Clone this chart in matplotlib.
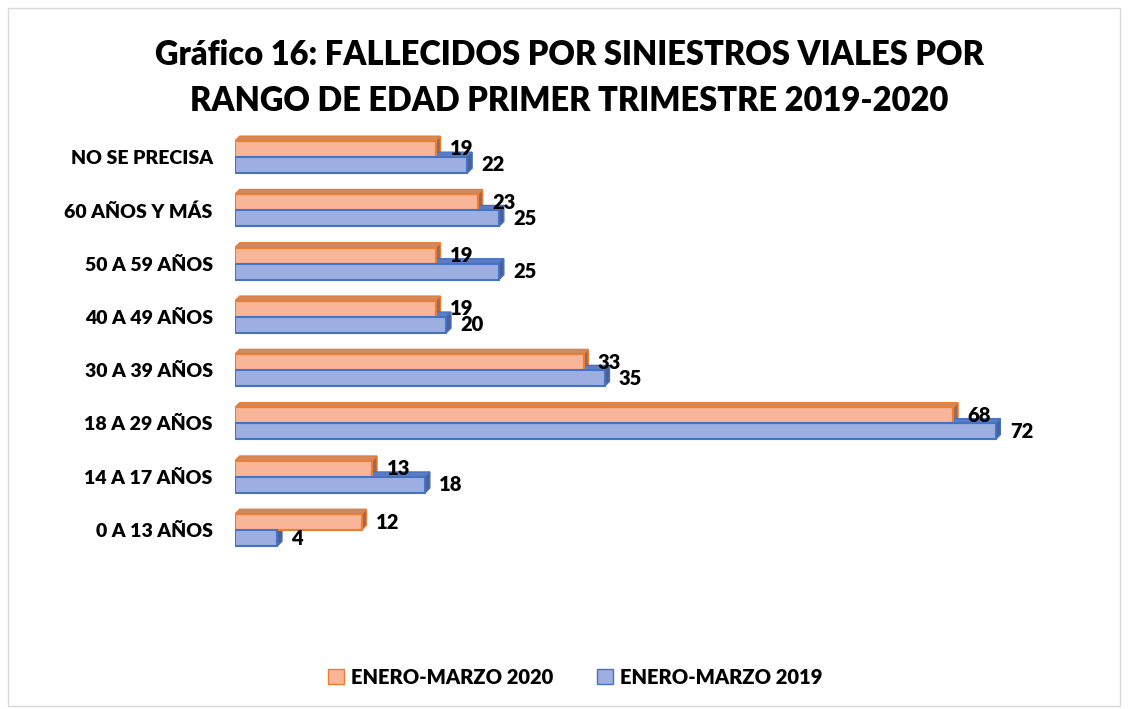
import numpy as np
import matplotlib.pyplot as plt
from matplotlib.patches import Polygon, Patch, Rectangle

# Datos
categorias = ['NO SE PRECISA', '60 AÑOS Y MÁS', '50 A 59 AÑOS', '40 A 49 AÑOS',
              '30 A 39 AÑOS', '18 A 29 AÑOS', '14 A 17 AÑOS', '0 A 13 AÑOS']
val_2020 = [19, 23, 19, 19, 33, 68, 13, 12]
val_2019 = [22, 25, 25, 20, 35, 72, 18, 4]
serie_2020 = 'ENERO-MARZO 2020'
serie_2019 = 'ENERO-MARZO 2019'
titulo = 'Gráfico 16: FALLECIDOS POR SINIESTROS VIALES POR\nRANGO DE EDAD PRIMER TRIMESTRE 2019-2020'

plt.rcParams['font.family'] = ['Lato', 'DejaVu Sans']
peso = 'heavy'

fig = plt.figure(figsize=(11.28, 7.09), dpi=100)
fig.patches.append(Rectangle((0.007, 0.004), 0.986, 0.985, transform=fig.transFigure,
                             fill=False, edgecolor='#d9d9d9', linewidth=1))
ax = fig.add_axes([0.2083, 0.1772, 0.7305, 0.639])

h = 0.3    # alto de cada barra
dx = 0.45  # profundidad 3D en x
dy = 0.09  # profundidad 3D en y

estilos = [
    # (valores, desplazamiento, frente, borde, techo, lado)
    (val_2020, -h/2, '#f8b597', '#ed7d31', '#c98a68', '#9a6a55'),
    (val_2019, h/2, '#9dafe0', '#4472c4', '#5d7cc2', '#4a5f95'),
]

y = np.arange(len(categorias))
for vals, off, frente, borde, techo, lado in estilos:
    yc = y + off
    for yi, v in zip(yc, vals):
        top, bot = yi - h/2, yi + h/2
        ax.add_patch(Polygon([(0, top), (dx, top - dy), (v + dx, top - dy), (v, top)],
                             closed=True, facecolor=techo, edgecolor=borde, lw=1, zorder=2))
        ax.add_patch(Polygon([(v, top), (v + dx, top - dy), (v + dx, bot - dy), (v, bot)],
                             closed=True, facecolor=lado, edgecolor=borde, lw=1, zorder=2))
    ax.barh(yc, vals, height=h, color=frente, edgecolor=borde, linewidth=1.5, zorder=3)
    for yi, v in zip(yc, vals):
        ax.text(v + dx + 0.9, yi, str(v), ha='left', va='center',
                fontsize=14.5, fontweight=peso, zorder=4)

ax.set_xlim(0, 78)
ax.set_ylim(len(categorias), -0.5)
ax.set_yticks(y)
ax.set_yticklabels(categorias, fontsize=14, fontweight=peso)
ax.tick_params(axis='y', length=0, pad=16)
ax.set_xticks([])
for s in ax.spines.values():
    s.set_visible(False)

fig.text(0.505, 0.945, titulo, ha='center', va='top', fontsize=23.5,
         fontweight=peso, linespacing=1.55)

handles = [Patch(facecolor='#f8b597', edgecolor='#ed7d31', label=serie_2020),
           Patch(facecolor='#9dafe0', edgecolor='#4472c4', label=serie_2019)]
fig.legend(handles=handles, loc='center', bbox_to_anchor=(0.51, 0.045), ncol=2,
           frameon=False, prop={'size': 14.5, 'weight': peso},
           handlelength=0.8, handleheight=0.8, columnspacing=2.2, handletextpad=0.35)

fig.savefig('out.png', dpi=100)
